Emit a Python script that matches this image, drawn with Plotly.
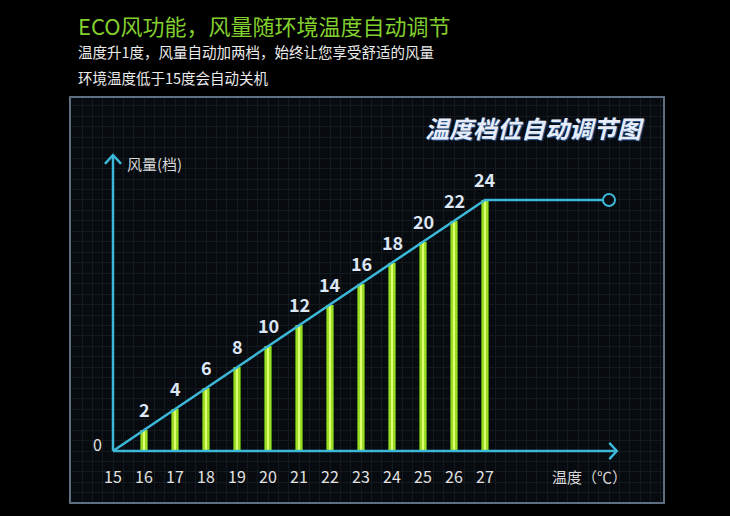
import plotly.graph_objects as go

# ---------------- data ----------------
TEMPS = [16, 17, 18, 19, 20, 21, 22, 23, 24, 25, 26, 27]
LEVELS = [2, 4, 6, 8, 10, 12, 14, 16, 18, 20, 22, 24]
TICK_VALS = [15, 16, 17, 18, 19, 20, 21, 22, 23, 24, 25, 26, 27]
TICK_TEXT = [str(v) for v in TICK_VALS]
LINE_X = [15, 27, 31]
LINE_Y = [0, 24, 24]

TITLE = "ECO风功能，风量随环境温度自动调节"
SUB1 = "温度升1度，风量自动加两档，始终让您享受舒适的风量"
SUB2 = "环境温度低于15度会自动关机"
PANEL_TITLE = "温度档位自动调节图"
Y_TITLE = "风量(档)"
X_TITLE = "温度（℃）"

# ---------------- style ----------------
CYAN = "#3db7d8"
PANEL_BG = "#070a0e"
GRID = "#121a20"
FONT = "Noto Sans CJK SC, Noto Sans, sans-serif"
X_RANGE = [13.645, 32.742]
Y_RANGE = [-4.876, 33.748]
X0, Y0 = 15, 0
Y_AXIS_TOP = 28.3
X_AXIS_END = 31.25

fig = go.Figure()

# bars: three overlaid layers for glow effect
for width, color in [(0.24, "#4f8f10"), (0.17, "#9ddc26"), (0.07, "#dcff6a")]:
    fig.add_trace(go.Bar(x=TEMPS, y=LEVELS, width=width, marker=dict(color=color, line=dict(width=0)),
                         hoverinfo="skip", showlegend=False))

# axes arrows
ax_line = dict(color=CYAN, width=2.5)
fig.add_trace(go.Scatter(x=[X0, X0], y=[Y0, Y_AXIS_TOP], mode="lines", line=ax_line, showlegend=False, hoverinfo="skip"))
fig.add_trace(go.Scatter(x=[X0 - 0.26, X0, X0 + 0.26], y=[Y_AXIS_TOP - 0.85, Y_AXIS_TOP, Y_AXIS_TOP - 0.85],
                         mode="lines", line=ax_line, showlegend=False, hoverinfo="skip"))
fig.add_trace(go.Scatter(x=[X0, X_AXIS_END], y=[Y0, Y0], mode="lines", line=ax_line, showlegend=False, hoverinfo="skip"))
fig.add_trace(go.Scatter(x=[X_AXIS_END - 0.24, X_AXIS_END, X_AXIS_END - 0.24], y=[Y0 + 0.78, Y0, Y0 - 0.78],
                         mode="lines", line=ax_line, showlegend=False, hoverinfo="skip"))

# level line
fig.add_trace(go.Scatter(x=LINE_X, y=LINE_Y, mode="lines", line=dict(color=CYAN, width=2.5),
                         showlegend=False, hoverinfo="skip"))
fig.add_trace(go.Scatter(x=LINE_X[-1:], y=LINE_Y[-1:], mode="markers",
                         marker=dict(size=12, color=PANEL_BG, line=dict(color=CYAN, width=2)),
                         showlegend=False, hoverinfo="skip"))

annotations = []
# value labels
for t, v in zip(TEMPS, LEVELS):
    annotations.append(dict(x=t, y=v, xref="x", yref="y", text=str(v), showarrow=False,
                            yshift=21, font=dict(family=FONT, size=18, color="#dde6f4", weight="bold")))
# tick labels
for tv, tt in zip(TICK_VALS, TICK_TEXT):
    annotations.append(dict(x=tv, y=Y0, xref="x", yref="y", text=tt, showarrow=False, yshift=-25,
                            font=dict(family=FONT, size=16, color="#e2e2e2")))
annotations.append(dict(x=X0, y=Y0, xref="x", yref="y", text="0", showarrow=False, xshift=-16, yshift=7,
                        font=dict(family=FONT, size=16, color="#e2e2e2")))
annotations.append(dict(x=X0, y=Y_AXIS_TOP - 0.8, xref="x", yref="y", text=Y_TITLE, showarrow=False,
                        xanchor="left", xshift=12, font=dict(family=FONT, size=15, color="#d8d8d8")))
annotations.append(dict(x=29.1, y=Y0, xref="x", yref="y", text=X_TITLE, showarrow=False,
                        xanchor="left", yshift=-25, font=dict(family=FONT, size=15, color="#d8d8d8")))
# panel title
annotations.append(dict(x=0.973, y=0.926, xref="paper", yref="paper", text=PANEL_TITLE, showarrow=False,
                        xanchor="right", yanchor="middle",
                        font=dict(family=FONT, size=24, color="#e6edf8", weight="bold", style="italic",
                                  shadow="1px 1px 1px #2f5f9a")))
# header texts
header = [
    (TITLE, 25, 22, "#82d02e"),
    (SUB1, 52, 14.5, "#ececec"),
    (SUB2, 78, 14.5, "#ececec"),
]
for text, py, size, color in header:
    annotations.append(dict(x=(76 - 71) / 592, y=(502 - py) / 404, xref="paper", yref="paper", text=text,
                            showarrow=False, xanchor="left", yanchor="middle",
                            font=dict(family=FONT, size=size, color=color)))

fig.update_layout(
    width=730, height=516,
    margin=dict(l=71, r=67, t=98, b=14),
    paper_bgcolor="#000000",
    plot_bgcolor=PANEL_BG,
    barmode="overlay",
    bargap=0,
    annotations=annotations,
    xaxis=dict(range=X_RANGE, tick0=15, dtick=1 / 3, showgrid=True, gridcolor=GRID, gridwidth=1,
               showticklabels=False, zeroline=False, ticks="", showline=True, mirror=True,
               linecolor="#5d6e80", linewidth=1.5, fixedrange=True),
    yaxis=dict(range=Y_RANGE, tick0=0, dtick=1, showgrid=True, gridcolor=GRID, gridwidth=1,
               showticklabels=False, zeroline=False, ticks="", showline=True, mirror=True,
               linecolor="#5d6e80", linewidth=1.5, fixedrange=True),
)

fig.write_html(
    "out.html",
    config={"displayModeBar": False},
    post_script="document.body.style.margin='0';document.body.style.background='#000';"
                "document.body.style.overflow='hidden';",
)
